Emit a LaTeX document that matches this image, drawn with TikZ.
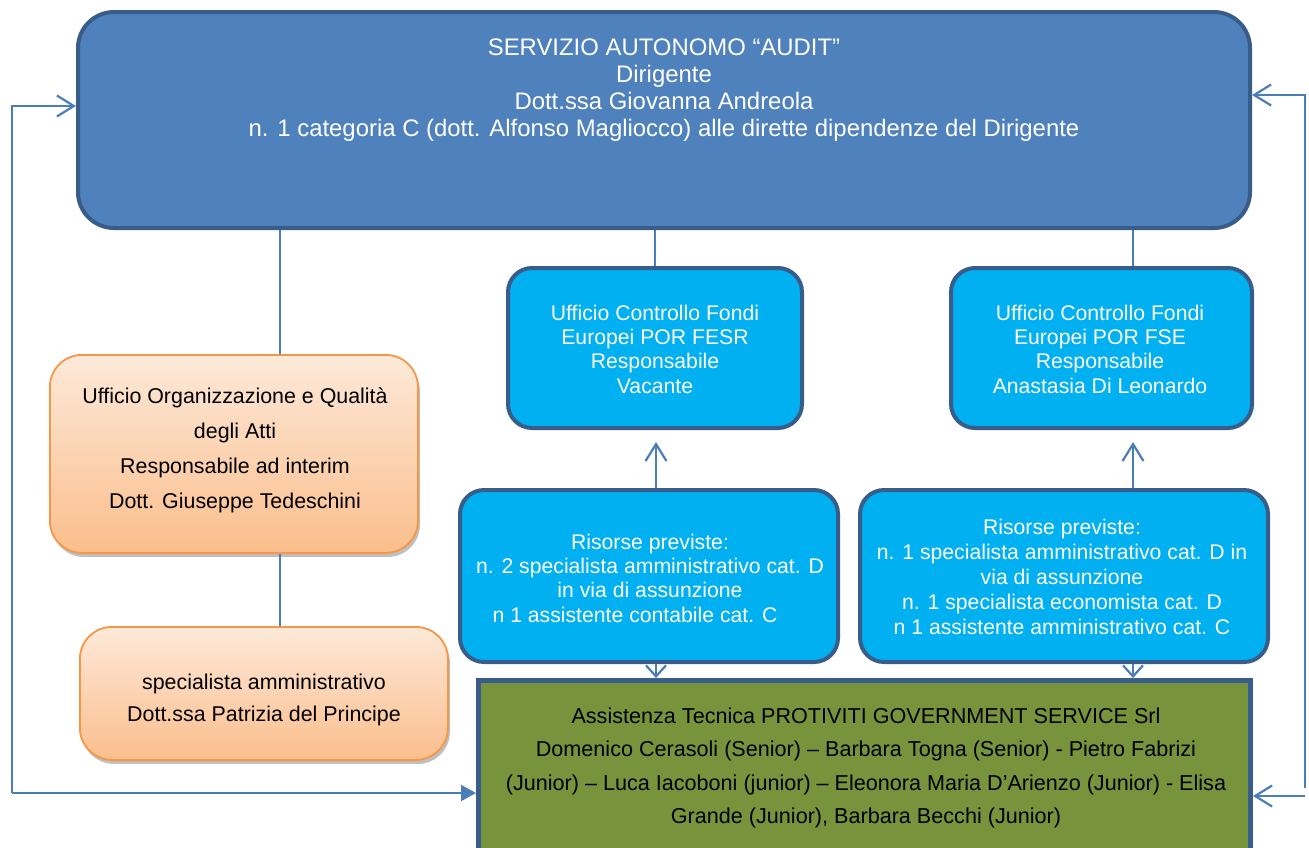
\documentclass[tikz,border=0pt]{standalone}
\usepackage{fontspec}
\setmainfont{Liberation Sans}
\usetikzlibrary{arrows.meta,shadows}
\definecolor{topblue}{HTML}{4F81BD}
\definecolor{edgeblue}{HTML}{385D8A}
\definecolor{cyanbox}{HTML}{00B0F0}
\definecolor{linkblue}{HTML}{4A7EBB}
\definecolor{orangeedge}{HTML}{F79646}
\definecolor{orangetop}{HTML}{FDE9D9}
\definecolor{orangebot}{HTML}{FBBE8C}
\definecolor{greenbox}{HTML}{77933C}
\tikzset{
  topbox/.style={draw=edgeblue, line width=4pt, fill=topblue, rounded corners=36pt, anchor=north west, inner sep=0pt},
  cyanstyle/.style={draw=edgeblue, line width=4pt, fill=cyanbox, rounded corners=24pt, anchor=north west, inner sep=0pt},
  orangestyle/.style={draw=orangeedge, line width=1.8pt, top color=orangetop, bottom color=orangebot, rounded corners=32pt, anchor=north west, inner sep=0pt,
    drop shadow={shadow xshift=2pt, shadow yshift=-4pt, opacity=0.25, fill=black}},
  greenstyle/.style={draw=edgeblue, line width=5pt, fill=greenbox, anchor=north west, inner sep=0pt},
  whitetxt/.style={text=white, align=center, inner sep=0pt},
  blacktxt/.style={text=black, align=center, inner sep=0pt},
  link/.style={draw=linkblue, line width=2pt},
  openarrow/.style={link, -{Straight Barb[length=17pt,width=21pt,line width=2.2pt]}},
  shortarrow/.style={link, -{Straight Barb[length=11pt,width=20pt,line width=2.2pt]}},
  filledarrow/.style={link, -{Triangle[length=15pt,width=16pt]}},
}
\begin{document}
\begin{tikzpicture}[x=1pt,y=-1pt]
\useasboundingbox (0,0) rectangle (1309,847);

% boxes
\node[topbox, minimum width=1172pt, minimum height=216pt] (audit) at (76,10) {};
\node[cyanstyle, minimum width=294pt, minimum height=160pt] (fesr) at (506,266) {};
\node[cyanstyle, minimum width=301pt, minimum height=160pt] (fse) at (949,266) {};
\node[cyanstyle, minimum width=378pt, minimum height=172pt] (ris1) at (458,488) {};
\node[cyanstyle, minimum width=408pt, minimum height=172pt] (ris2) at (858,488) {};
\node[orangestyle, minimum width=368pt, minimum height=198pt] (org1) at (49,354) {};
\node[orangestyle, minimum width=368pt, minimum height=133pt] (org2) at (79,626) {};
\node[greenstyle, minimum width=772pt, minimum height=200pt] (green) at (476,678) {};

% texts
\node[whitetxt, font=\fontsize{23.9}{27}\selectfont] (audittxt) at (664,90)
  {SERVIZIO AUTONOMO “AUDIT”\\Dirigente\\Dott.ssa Giovanna Andreola\\n. 1 categoria C (dott. Alfonso Magliocco) alle dirette dipendenze del Dirigente};
\node[whitetxt, font=\fontsize{21.2}{24.3}\selectfont] (fesrtxt) at (655,349)
  {Ufficio Controllo Fondi\\Europei POR FESR\\Responsabile\\Vacante};
\node[whitetxt, font=\fontsize{21.2}{24.3}\selectfont] (fsetxt) at (1100,349)
  {Ufficio Controllo Fondi\\Europei POR FSE\\Responsabile\\Anastasia Di Leonardo};
\node[whitetxt, font=\fontsize{21.2}{24.3}\selectfont] (ris1txt) at (650,578)
  {Risorse previste:\\n. 2 specialista amministrativo cat. D\\in via di assunzione\\n 1 assistente contabile cat. C\hspace*{30pt}};
\node[whitetxt, font=\fontsize{21.2}{24.8}\selectfont] (ris2txt) at (1062,577)
  {Risorse previste:\\n. 1 specialista amministrativo cat. D in\\via di assunzione\\n. 1 specialista economista cat. D\\n 1 assistente amministrativo cat. C};
\node[blacktxt, font=\fontsize{21.4}{35}\selectfont] (org1txt) at (235,450)
  {Ufficio Organizzazione e Qualità\\degli Atti\\Responsabile ad interim\\Dott. Giuseppe Tedeschini};
\node[blacktxt, font=\fontsize{21.4}{32}\selectfont] (org2txt) at (264,700)
  {specialista amministrativo\\Dott.ssa Patrizia del Principe};
\node[blacktxt, font=\fontsize{21.6}{33.3}\selectfont] (greentxt) at (866,768)
  {Assistenza Tecnica PROTIVITI GOVERNMENT SERVICE Srl\\Domenico Cerasoli (Senior) – Barbara Togna (Senior) - Pietro Fabrizi\\(Junior) – Luca Iacoboni (junior) – Eleonora Maria D’Arienzo (Junior) - Elisa\\Grande (Junior), Barbara Becchi (Junior)};

% helper x positions
\coordinate (xa) at (280,0);
\coordinate (xb) at (656,0);
\coordinate (xc) at (1133,0);
\coordinate (LB) at (12,793);
\coordinate (LT) at (12,106);
\coordinate (RT) at (1305,95);
\coordinate (RB) at (1305,788);
\coordinate (RB2) at (1305,796);

% connectors
\draw[link] (audit.south -| xa) -- (org1.north -| xa);
\draw[link] (org1.south -| xa) -- (org2.north -| xa);
\draw[link] (audit.south -| fesr.north) -- (fesr.north);
\draw[link] (audit.south -| xc) -- (fse.north -| xc);
\draw[openarrow, shorten >=12pt] (ris1.north -| xb) -- (fesr.south -| xb);
\draw[openarrow, shorten >=12pt] (ris2.north -| xc) -- (fse.south -| xc);
\draw[shortarrow] (ris1.south -| xb) -- (green.north -| xb);
\draw[shortarrow] (ris2.south -| xc) -- (green.north -| xc);
\draw[openarrow] (LB) -- (LT) -- (LT -| audit.west);
\draw[filledarrow] (LB) -- (LB -| green.west);
\draw[openarrow] (RB) -- (RT) -- (RT -| audit.east);
\draw[openarrow] (RB2) -- (RB2 -| green.east);
\end{tikzpicture}
\end{document}
